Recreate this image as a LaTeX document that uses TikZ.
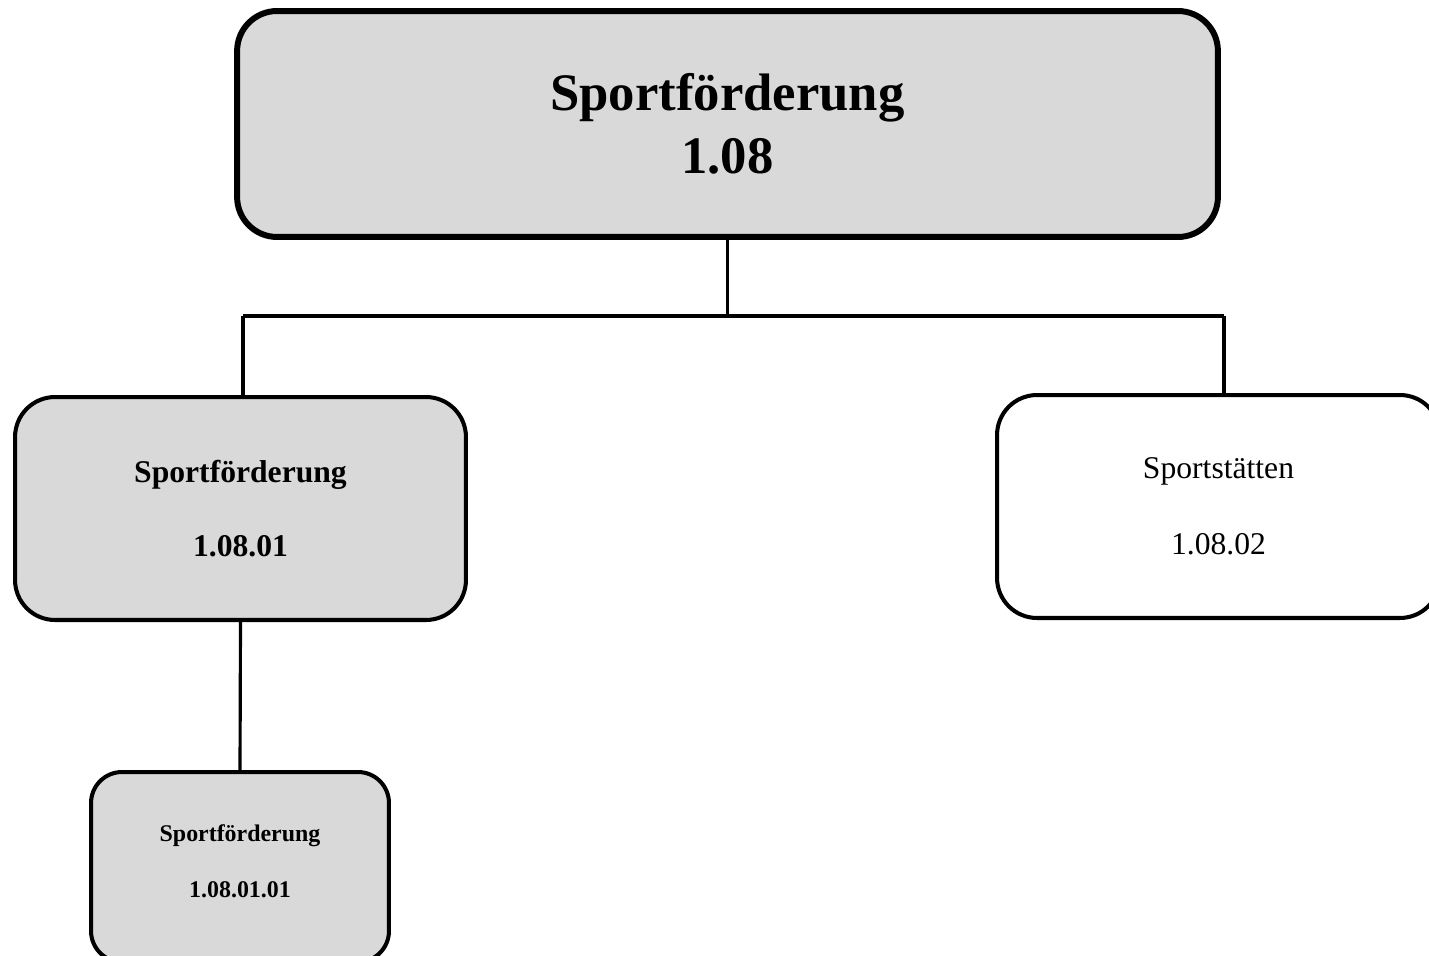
\documentclass[tikz,border=0pt]{standalone}
\usepackage{fontspec}
\setmainfont{Liberation Serif}
\usetikzlibrary{calc}
\definecolor{boxgray}{HTML}{D9D9D9}
\tikzset{
  unitbox/.style={draw=black, line width=2.3pt, rounded corners=0.8cm, align=center, inner sep=0pt},
  link/.style={draw=black, line width=1.8pt}
}

\begin{document}
\begin{tikzpicture}[x=0.02cm,y=-0.02cm]
  % Frame
  \useasboundingbox (0,0) rectangle (1429,956);
  \clip (0,0) rectangle (1429,956);
  % Units
  \node[unitbox, fill=boxgray, line width=3.4pt, minimum width=19.62cm, minimum height=4.52cm,
        font=\fontsize{30}{36}\selectfont\bfseries] (top) at (727.5,124) {Sportförderung\\1.08};
  \node[unitbox, fill=boxgray, minimum width=9.02cm, minimum height=4.46cm,
        font=\fontsize{18}{42.5}\selectfont\bfseries] (sub1) at (240.5,508.5) {Sportförderung\\1.08.01};
  \node[unitbox, fill=white, minimum width=8.86cm, minimum height=4.46cm,
        font=\fontsize{18}{43.5}\selectfont] (sub2) at (1218.5,506.5) {Sportstätten\\1.08.02};
  \node[unitbox, fill=boxgray, rounded corners=0.62cm, minimum width=5.96cm, minimum height=3.8cm,
        text depth=0.24cm, font=\fontsize{13.6}{32}\selectfont\bfseries] (subsub) at (240,867) {Sportförderung\\1.08.01.01};
  % Connectors
  \coordinate (jl) at (243,316);
  \coordinate (jr) at (1224,316);
  \draw[link] (top.south) -- (top.south |- jl);
  \draw[link] (jl) -- (jr);
  \draw[link] (jl) -- (jl |- sub1.north);
  \draw[link] (jr) -- (jr |- sub2.north);
  \draw[link] (sub1.south) -- (subsub.north);
\end{tikzpicture}
\end{document}
